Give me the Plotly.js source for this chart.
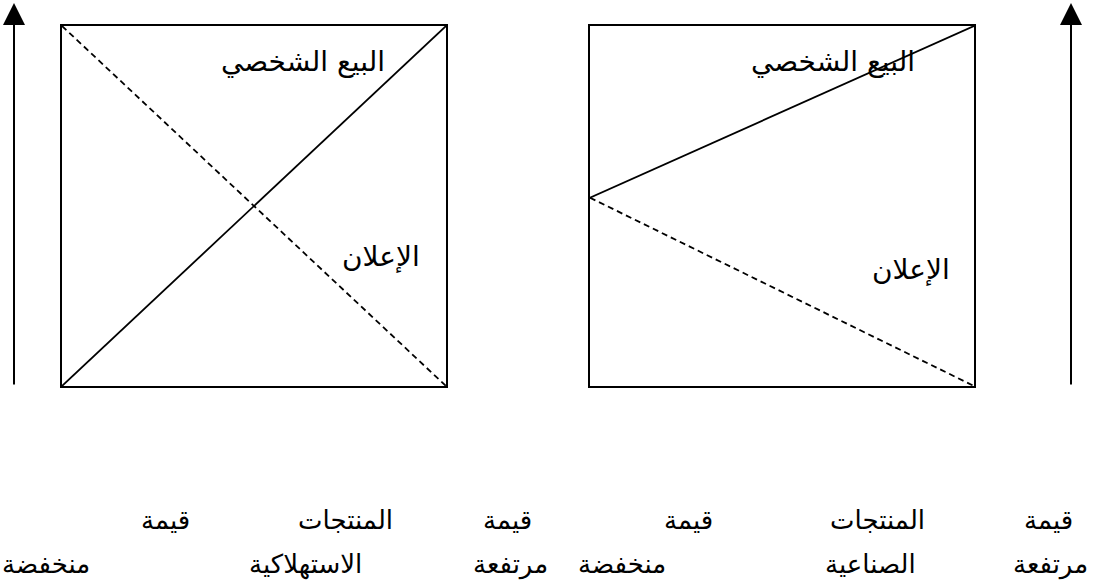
<!DOCTYPE html>
<html>
<head>
<meta charset="utf-8">
<script src="https://cdn.plot.ly/plotly-3.0.1.min.js"></script>
<style>html,body{margin:0;padding:0;background:#fff;}#chart{width:1099px;height:580px;}</style>
</head>
<body>
<div id="chart"></div>
<script>
// ---- data ----
// position along the product-value axis (0 = start, 1 = end of the box)
const posX = [0, 1];
// left panel (consumer products)
const consumerPersonalSelling = [0, 1];
const consumerAdvertising = [1, 0];
// right panel (industrial products)
const industrialPersonalSelling = [0.523, 1];
const industrialAdvertising = [0.523, 0];
// labels
const labelPersonalSelling = 'البيع الشخصي';
const labelAdvertising = 'الإعلان';
const row1Words = ['قيمة', 'المنتجات', 'قيمة', 'قيمة', 'المنتجات', 'قيمة'];
const row2Words = ['مرتفعة', 'الصناعية', 'منخفضة', 'مرتفعة', 'الاستهلاكية', 'منخفضة'];

const W = 1099, H = 580;
const FONT = 'DejaVu Sans, Arial, sans-serif';
const solid = {color: '#000', width: 1.8};
const dashed = {color: '#000', width: 1.8, dash: '6px,4px'};

const traces = [
  {x: posX, y: consumerPersonalSelling, xaxis: 'x', yaxis: 'y', mode: 'lines', line: solid, hoverinfo: 'skip'},
  {x: posX, y: consumerAdvertising, xaxis: 'x', yaxis: 'y', mode: 'lines', line: dashed, hoverinfo: 'skip'},
  {x: posX, y: industrialPersonalSelling, xaxis: 'x2', yaxis: 'y2', mode: 'lines', line: solid, hoverinfo: 'skip'},
  {x: posX, y: industrialAdvertising, xaxis: 'x2', yaxis: 'y2', mode: 'lines', line: dashed, hoverinfo: 'skip'}
];

function boxAxis(domain, anchor) {
  return {domain: domain, anchor: anchor, range: [0, 1], showline: true, mirror: true,
    linecolor: '#000', linewidth: 2.2, showgrid: false, zeroline: false, showticklabels: false, ticks: ''};
}
function px(x0, x1) { return [x0 / W, x1 / W]; }
function py(top, bottom) { return [(H - bottom) / H, (H - top) / H]; }

const lbl = {family: FONT, size: 28, color: '#000'};
const txt = {family: FONT, size: 26, color: '#000'};

const annotations = [];
function addText(text, x, y, font, anchor) {
  annotations.push({text: text, x: x / W, y: 1 - y / H, xref: 'paper', yref: 'paper', showarrow: false,
    font: font, xanchor: anchor || 'center', yanchor: 'middle'});
}
// box labels
addText(labelPersonalSelling, 303, 61, lbl);
addText(labelAdvertising, 381, 256, lbl);
addText(labelPersonalSelling, 833, 61, lbl);
addText(labelAdvertising, 911, 270, lbl);
// bottom rows
const row1X = [1048, 877, 688, 507, 345, 165];
const row2X = [1050, 870, 622, 510, 305, 0];
const row2Anchor = ['center', 'center', 'center', 'center', 'center', 'left'];
row1Words.forEach((w, i) => addText(w, row1X[i], 520, txt));
row2Words.forEach((w, i) => addText(w, row2X[i], 564, txt, row2Anchor[i]));
// vertical arrows
[14, 1071].forEach(xa => annotations.push({x: xa / W, y: 1 - 3 / H, xref: 'paper', yref: 'paper',
  ax: 0, ay: 383, axref: 'pixel', ayref: 'pixel', showarrow: true, arrowhead: 2, arrowsize: 2.2,
  arrowwidth: 2, arrowcolor: '#000', text: '', standoff: 0}));

const layout = {
  width: W, height: H, margin: {l: 0, r: 0, t: 0, b: 0},
  paper_bgcolor: '#fff', plot_bgcolor: 'rgba(0,0,0,0)', showlegend: false,
  xaxis: boxAxis(px(62, 446), 'y'),
  yaxis: boxAxis(py(26, 386), 'x'),
  xaxis2: boxAxis(px(590, 974), 'y2'),
  yaxis2: boxAxis(py(26, 386), 'x2'),
  annotations: annotations
};

Plotly.newPlot('chart', traces, layout, {staticPlot: true, displayModeBar: false});
</script>
</body>
</html>
